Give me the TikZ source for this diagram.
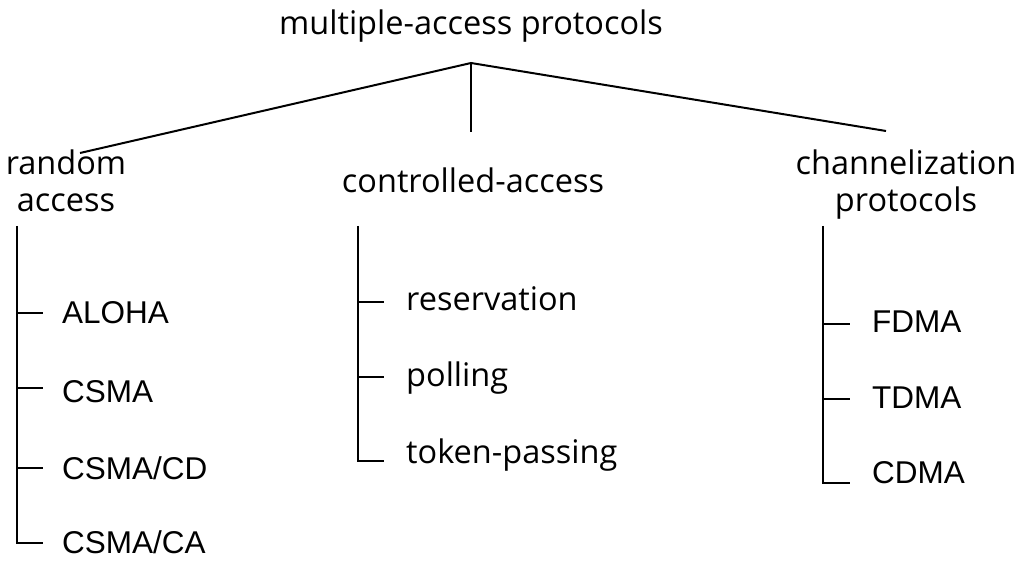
\documentclass[tikz,border=0pt]{standalone}
\usepackage{fontspec}
\setmainfont{Open Sans}
\newfontfamily\capsfont{Liberation Sans}
\usetikzlibrary{calc}
\tikzset{
  tree/.style={line width=2pt, line cap=butt, line join=miter},
  head/.style={inner sep=0pt, font=\fontsize{32.5}{37}\selectfont, align=center},
  item/.style={inner sep=0pt, anchor=base west, font=\fontsize{32.5}{36}\selectfont},
  capitem/.style={inner sep=0pt, anchor=base west, font=\capsfont\fontsize{31.5}{36}\selectfont},
}
\begin{document}
\begin{tikzpicture}[x=1pt, y=1pt]
\useasboundingbox (0,0) rectangle (1024,560);

% root and category headings (base = baseline of the last line)
\node[head, anchor=base] (root) at (471,525) {multiple-access protocols};
\node[head, anchor=base] (rand) at (66,348) {random\\access};
\node[head, anchor=base] (ctrl) at (473,367) {controlled-access};
\node[head, anchor=base] (chan) at (906,348) {channelization\\protocols};

% branching of the root
\coordinate (apex) at (471,497);
\coordinate (randend) at (80,407);
\coordinate (ctrlend) at (471,428);
\coordinate (chanend) at (886,429);
\draw[tree] (randend) -- (apex) -- (chanend);
\draw[tree] (apex) -- (ctrlend);

% random access members
\node[capitem] (aloha)  at (62,237) {ALOHA};
\node[capitem] (csma)   at (62,158) {CSMA};
\node[capitem] (csmacd) at (62,81)  {CSMA/CD};
\node[capitem] (csmaca) at (62,7)   {CSMA/CA};
\coordinate (rbar) at (17,334);
\draw[tree] (rbar) -- ($(rbar |- csmaca.base)+(0,10.5)$) -- ++(26,0);
\foreach \n/\d in {aloha/10, csma/14, csmacd/11}
  \draw[tree] ($(rbar |- \n.base)+(0,\d)$) -- ++(26,0);

% controlled access members
\node[item] (resv) at (406,250) {reservation};
\node[item] (poll) at (406,174) {polling};
\node[item] (tokp) at (406,97)  {token-passing};
\coordinate (cbar) at (358,334);
\draw[tree] (cbar) -- ($(cbar |- tokp.base)+(0,2)$) -- ++(26,0);
\foreach \n/\d in {resv/8, poll/9}
  \draw[tree] ($(cbar |- \n.base)+(0,\d)$) -- ++(26,0);

% channelization members
\node[capitem] (fdma) at (872,228) {FDMA};
\node[capitem] (tdma) at (872,152) {TDMA};
\node[capitem] (cdma) at (872,77)  {CDMA};
\coordinate (hbar) at (823,334);
\draw[tree] (hbar) -- (hbar |- cdma.base) -- ++(27,0);
\foreach \n/\d in {fdma/8, tdma/9}
  \draw[tree] ($(hbar |- \n.base)+(0,\d)$) -- ++(27,0);
\end{tikzpicture}
\end{document}
